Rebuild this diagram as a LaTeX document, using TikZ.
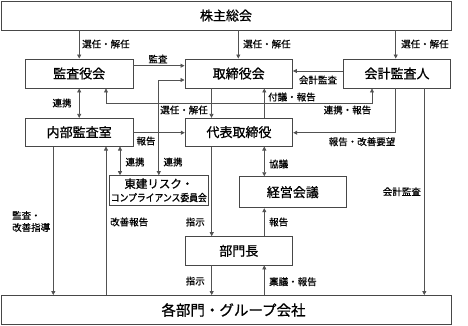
\documentclass[tikz,border=0pt]{standalone}
\usepackage{fontspec}
\setmainfont{Noto Sans CJK JP}
\newfontfamily\jpb{Noto Sans CJK JP}[FakeBold=0.9]
\newfontfamily\jpl{Noto Sans CJK JP}[FakeBold=0.5]
\usetikzlibrary{arrows.meta,calc}
\begin{document}
\begin{tikzpicture}[x=1pt,y=-1pt,
  box/.style={draw=black!72,line width=0.9pt,fill=white,inner sep=0pt,
    minimum width=107.5pt,minimum height=29pt,font=\jpb\fontsize{13}{13}\selectfont},
  lbl/.style={inner sep=0pt,font=\jpl\fontsize{9.5}{12}\selectfont},
  tip/.tip={Triangle[length=4pt,width=4pt]},
  arr/.style={draw=black!68,line width=0.7pt,-tip},
  arrb/.style={draw=black!68,line width=0.7pt,tip-tip}]
\useasboundingbox (0,0) rectangle (468,325);
% boxes
\node[box,minimum width=450pt] (top) at (226,15.5) {株主総会};
\node[box] (kansa) at (79.2,73.5) {監査役会};
\node[box] (tori) at (238.7,73.5) {取締役会};
\node[box] (kaikei) at (397,73.5) {会計監査人};
\node[box,minimum height=27.7pt] (naibu) at (79.2,132.2) {内部監査室};
\node[box,minimum height=27.7pt] (daihyo) at (239,132.2) {代表取締役};
\node[box,minimum width=99pt,minimum height=29.3pt,align=center,
  font=\jpb\fontsize{11.5}{13.3}\selectfont] (risk) at (158.8,190.3)
  {東建リスク・\\{\fontsize{10}{13.3}\selectfont\scalebox{0.88}[1]{コンプライアンス委員会}}};
\node[box,minimum height=31pt] (keiei) at (292.8,192.2) {経営会議};
\node[box,minimum height=28.3pt] (bumon) at (238.8,250.8) {部門長};
\node[box,minimum width=450pt,font=\jpb\fontsize{14.5}{14.5}\selectfont] (bottom) at (226,310)
  {\hspace*{15pt}各部門・グループ会社};
% connectors from top
\draw[arr] (kansa.north |- top.south) -- (kansa.north);
\draw[arr] (238.3,0 |- top.south) -- (238.3,0 |- tori.north);
\draw[arr] (395.7,0 |- top.south) -- (395.7,0 |- kaikei.north);
\node[lbl,anchor=west] at (82,44) {選任・解任};
\node[lbl,anchor=west] at (243,44) {選任・解任};
\node[lbl,anchor=west] at (401,44) {選任・解任};
% row 2
\draw[arr] (kansa.east |- 0,65.7) -- (tori.west |- 0,65.7);
\node[lbl] at (158,59) {監査};
\draw[arr] (kaikei.west |- 0,71) -- (tori.east |- 0,71);
\node[lbl] at (318,80) {会計監査};
\draw[arrb] (tori.west |- 0,80) -| (risk.north);
\node[lbl,anchor=east] at (208,110) {選任・解任};
\node[lbl] at (173,162) {連携};
\draw[arr] (211.5,0 |- tori.south) -- (211.5,0 |- daihyo.north);
\draw[arr] (264.3,0 |- daihyo.north) -- (264.3,0 |- tori.south);
\node[lbl,anchor=west] at (268,97) {付議・報告};
\draw[arrb] (106,0 |- kansa.south) |- (372,103) -- (372,0 |- kaikei.south);
\node[lbl] at (347.5,110) {連携・報告};
\draw[arr] (395.7,0 |- kaikei.south) |- (daihyo.east |- 0,132.7);
\node[lbl] at (362,141.7) {報告・改善要望};
\draw[arr] (424.3,0 |- kaikei.south) -- (424.3,0 |- bottom.north);
\node[lbl,anchor=east] at (421,191.7) {会計監査};
% left side
\draw[arrb] (kansa.south) -- (naibu.north);
\node[lbl] at (62,103) {連携};
\draw[arr] (naibu.east |- 0,132.7) -- (daihyo.west |- 0,132.7);
\node[lbl] at (146,141) {報告};
\draw[arrb] (120,0 |- naibu.south) -- (120,0 |- risk.north);
\node[lbl] at (135,162) {連携};
\draw[arr] (53.3,0 |- naibu.south) -- (53.3,0 |- bottom.north);
\node[lbl,anchor=west,align=left] at (12,221.5) {監査・\\改善指導};
\draw[arr] (106,0 |- bottom.north) -- (106,0 |- naibu.south);
\node[lbl,anchor=west] at (110,222) {改善報告};
% middle
\draw[arr] (211.7,0 |- daihyo.south) -- (211.7,0 |- bumon.north);
\node[lbl,anchor=east] at (205,222) {指示};
\draw[arr] (211.7,0 |- bumon.south) -- (211.7,0 |- bottom.north);
\node[lbl,anchor=east] at (205,281) {指示};
\draw[arrb] (264.3,0 |- daihyo.south) -- (264.3,0 |- keiei.north);
\node[lbl,anchor=west] at (269,164) {協議};
\draw[arr] (264.3,0 |- bumon.north) -- (264.3,0 |- keiei.south);
\node[lbl,anchor=west] at (269,222) {報告};
\draw[arr] (264.3,0 |- bottom.north) -- (264.3,0 |- bumon.south);
\node[lbl,anchor=west] at (269,281.7) {稟議・報告};
\end{tikzpicture}
\end{document}
